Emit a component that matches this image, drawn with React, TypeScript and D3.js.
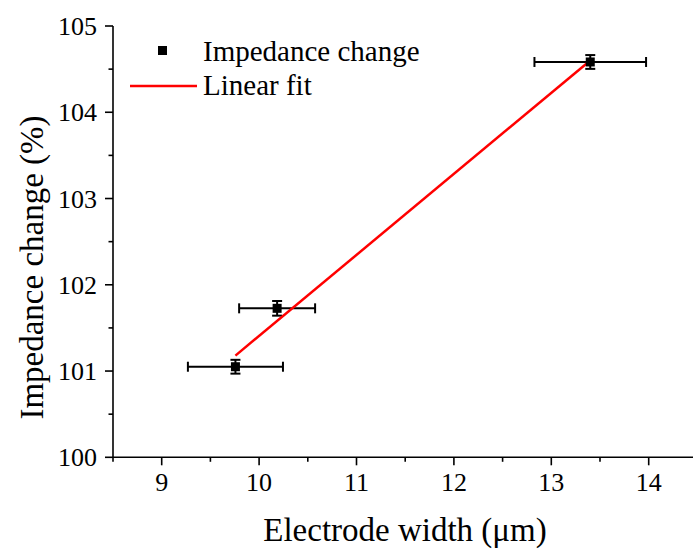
import React from "react";
import * as d3 from "d3";

const widths = [9.757, 10.185, 13.4];
const impedance = [101.05, 101.727, 104.583];
const widthErr = [0.488, 0.39, 0.573];
const impedanceErr = [0.08, 0.085, 0.08];
const xTicks = [9, 10, 11, 12, 13, 14];
const yTicks = [100, 101, 102, 103, 104, 105];
const legendLabels = ["Impedance change", "Linear fit"];
const xTitle = "Electrode width (\u03bcm)";
const yTitle = "Impedance change (%)";

const W = 693;
const H = 551;
const FONT = "Liberation Serif, Times New Roman, serif";
const ts = { fontFamily: FONT };

export default function App() {
  const x = d3.scaleLinear().domain([8.5, 14.5]).range([113, 697.4]);
  const y = d3.scaleLinear().domain([100, 105]).range([457.3, 26]);

  // least squares fit
  const mx = d3.mean(widths)!;
  const my = d3.mean(impedance)!;
  let sxy = 0, sxx = 0;
  widths.forEach((v, i) => {
    sxy += (v - mx) * (impedance[i] - my);
    sxx += (v - mx) * (v - mx);
  });
  const slope = sxy / sxx;
  const icpt = my - slope * mx;
  const fitX = [d3.min(widths)!, d3.max(widths)!];
  const fitLine = d3
    .line<number>()
    .x((d) => x(d))
    .y((d) => y(icpt + slope * d));

  const xMinor = d3.range(8.5, 14.51, 0.5).filter((v) => !xTicks.includes(v));
  const yMinor = d3.range(100.5, 105, 1);

  const x0 = x.range()[0];
  const y0 = y.range()[0];

  return (
    <svg
      width={W}
      height={H}
      style={{ position: "absolute", left: 0, top: 0, background: "#fff", fontFamily: FONT }}
    >
      {/* axes */}
      <line x1={x0} x2={W} y1={y0} y2={y0} stroke="#000" strokeWidth={1.6} />
      <line x1={x0} x2={x0} y1={y(105)} y2={y0} stroke="#000" strokeWidth={1.6} />
      {xTicks.map((t) => (
        <g key={"xt" + t}>
          <line x1={x(t)} x2={x(t)} y1={y0} y2={y0 + 8} stroke="#000" strokeWidth={1.6} />
          <text x={x(t)} y={491} fontSize={26} textAnchor="middle" style={ts}>
            {t}
          </text>
        </g>
      ))}
      {xMinor.map((t) => (
        <line key={"xm" + t} x1={x(t)} x2={x(t)} y1={y0} y2={y0 + 4.5} stroke="#000" strokeWidth={1.6} />
      ))}
      {yTicks.map((t) => (
        <g key={"yt" + t}>
          <line x1={x0 - 8} x2={x0} y1={y(t)} y2={y(t)} stroke="#000" strokeWidth={1.6} />
          <text x={97} y={y(t)} dy="0.35em" fontSize={26} textAnchor="end" style={ts}>
            {t}
          </text>
        </g>
      ))}
      {yMinor.map((t) => (
        <line key={"ym" + t} x1={x0 - 4.5} x2={x0} y1={y(t)} y2={y(t)} stroke="#000" strokeWidth={1.6} />
      ))}

      {/* titles */}
      <text x={405} y={541} fontSize={33} textAnchor="middle" style={ts}>
        {xTitle}
      </text>
      <text transform="translate(43,267.5) rotate(-90)" fontSize={33} textAnchor="middle" style={ts}>
        {yTitle}
      </text>

      {/* error bars */}
      {widths.map((w, i) => {
        const cx = x(w);
        const cy = y(impedance[i]);
        const xl = x(w - widthErr[i]);
        const xr = x(w + widthErr[i]);
        const yt = y(impedance[i] + impedanceErr[i]);
        const yb = y(impedance[i] - impedanceErr[i]);
        return (
          <g key={"eb" + i} stroke="#000" strokeWidth={2}>
            <line x1={xl} x2={xr} y1={cy} y2={cy} />
            <line x1={xl} x2={xl} y1={cy - 5} y2={cy + 5} />
            <line x1={xr} x2={xr} y1={cy - 5} y2={cy + 5} />
            <line x1={cx} x2={cx} y1={yt} y2={yb} />
            <line x1={cx - 5} x2={cx + 5} y1={yt} y2={yt} />
            <line x1={cx - 5} x2={cx + 5} y1={yb} y2={yb} />
          </g>
        );
      })}

      {/* fit line */}
      <path d={fitLine(fitX) || ""} fill="none" stroke="#ff0000" strokeWidth={2.5} />

      {/* markers */}
      {widths.map((w, i) => (
        <rect
          key={"pt" + i}
          x={x(w) - 4.5}
          y={y(impedance[i]) - 4.5}
          width={9}
          height={9}
          fill="#000"
        />
      ))}

      {/* legend */}
      <rect x={158} y={46} width={9} height={9} fill="#000" />
      <text x={203} y={61} fontSize={29} style={ts}>
        {legendLabels[0]}
      </text>
      <line x1={130} x2={197} y1={86} y2={86} stroke="#ff0000" strokeWidth={2.5} />
      <text x={203} y={95} fontSize={29} style={ts}>
        {legendLabels[1]}
      </text>
    </svg>
  );
}
